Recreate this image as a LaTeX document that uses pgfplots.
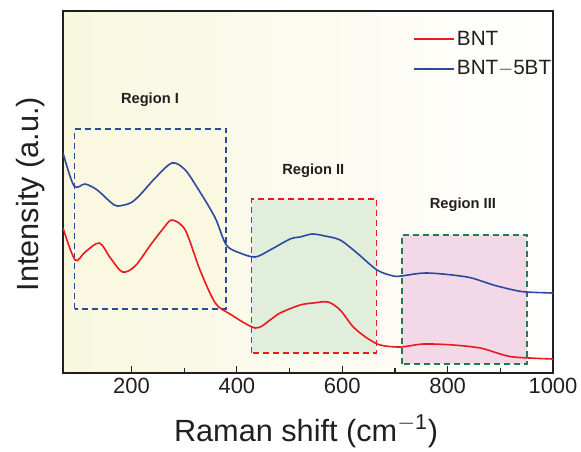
\documentclass[border=0pt]{standalone}
\usepackage{pgfplots}
\pgfplotsset{compat=1.18}
\usepackage{fontspec}
\setmainfont{Liberation Sans}
\setsansfont{Liberation Sans}

\definecolor{bntred}{HTML}{E8191F}
\definecolor{bntblue}{HTML}{2B4A9E}
\definecolor{boxgreen}{HTML}{1E7F4A}
\definecolor{bgyellow}{HTML}{F8F7DE}
\definecolor{bgmid}{HTML}{FCFBF0}
\definecolor{fillI}{HTML}{FAF8E0}
\definecolor{fillII}{HTML}{E1EEDC}
\definecolor{fillIII}{HTML}{F3D9E8}
\definecolor{axisblack}{HTML}{231F20}

\pgfplotstableread{
x y
70 145
93 113
112 121
139 130
160 115
183 101
207 107
236 128
261 145
277 153
302 143
330 103
359 70
387 59
435 45
463 53
482 60
520 68
545 70
573 71
596 63
621 46
647 35
672 28
710 26
754 29
811 28
862 25
894 20
925 16
1000 14
}\bnt

\pgfplotstableread{
x y
70 220
91 187
112 189
135 183
160 171
173 167
198 170
216 178
245 195
277 210
302 203
330 181
359 155
380 128
406 120
435 116
463 123
501 134
520 136
543 139
567 137
596 133
628 120
666 103
697 97
712 97
761 100
837 96
887 88
925 83
949 81
1000 80
}\bntbt

\begin{document}
\begin{tikzpicture}
\path[use as bounding box] (-47.25pt,-58.5pt) rectangle (388.5pt,279.75pt);
\begin{axis}[
  at={(0,0)}, anchor=south west,
  scale only axis,
  width=367.5pt, height=271.5pt,
  xmin=70, xmax=1000, ymin=0, ymax=362,
  axis line style={color=axisblack, line width=1.1pt},
  axis background/.style={left color=bgyellow, right color=white, middle color=bgmid},
  xtick={200,400,600,800,1000},
  minor x tick num=1,
  xtick pos=bottom,
  ytick=\empty,
  tick align=inside,
  major tick length=5.5pt,
  minor tick length=3.5pt,
  every tick/.style={color=axisblack, line width=0.9pt},
  ticklabel style={font=\fontsize{16.5}{18}\selectfont, text=axisblack},
  /pgf/number format/assume math mode=true,
  /pgf/number format/1000 sep={},
  xlabel={Raman shift (cm$^{\mathrm{-1}}$)},
  ylabel={Intensity (a.u.)},
  label style={font=\fontsize{23}{26}\selectfont, text=axisblack},
  xlabel style={at={(axis description cs:0.496,-0.16)}, anchor=center},
  ylabel style={at={(axis description cs:-0.067,0.494)}, anchor=center},
  legend style={draw=none, fill=none, at={(axis description cs:0.705,0.96)}, anchor=north west,
    font=\fontsize{15.5}{17}\selectfont, row sep=6pt, text=axisblack},
  legend cell align=left,
  legend image code/.code={\draw[#1] (0pt,0pt) -- (30pt,0pt);},
]
% region boxes
\fill[fillI] (axis cs:92,64) rectangle (axis cs:380,244);
\draw[bntblue, line width=1.3pt, dash pattern=on 4.5pt off 3pt] (axis cs:92,64) rectangle (axis cs:380,244);
\fill[fillII] (axis cs:428,20) rectangle (axis cs:665,174);
\draw[bntred, line width=1.3pt, dash pattern=on 4.5pt off 3pt] (axis cs:428,20) rectangle (axis cs:665,174);
\fill[fillIII] (axis cs:713,9) rectangle (axis cs:950,138);
\draw[boxgreen, line width=1.3pt, dash pattern=on 4.5pt off 3pt] (axis cs:713,9) rectangle (axis cs:950,138);

\node[font=\bfseries\fontsize{11}{13}\selectfont, text=axisblack] at (axis cs:235,273) {Region I};
\node[font=\bfseries\fontsize{11}{13}\selectfont, text=axisblack] at (axis cs:545,202) {Region II};
\node[font=\bfseries\fontsize{11}{13}\selectfont, text=axisblack] at (axis cs:829,168) {Region III};

\addplot[bntred, line width=1.2pt, smooth, tension=0.5] table[x=x, y=y] {\bnt};
\addlegendentry{BNT}
\addplot[bntblue, line width=1.2pt, smooth, tension=0.5] table[x=x, y=y] {\bntbt};
\addlegendentry{BNT$-$5BT}
\end{axis}
\end{tikzpicture}
\end{document}
